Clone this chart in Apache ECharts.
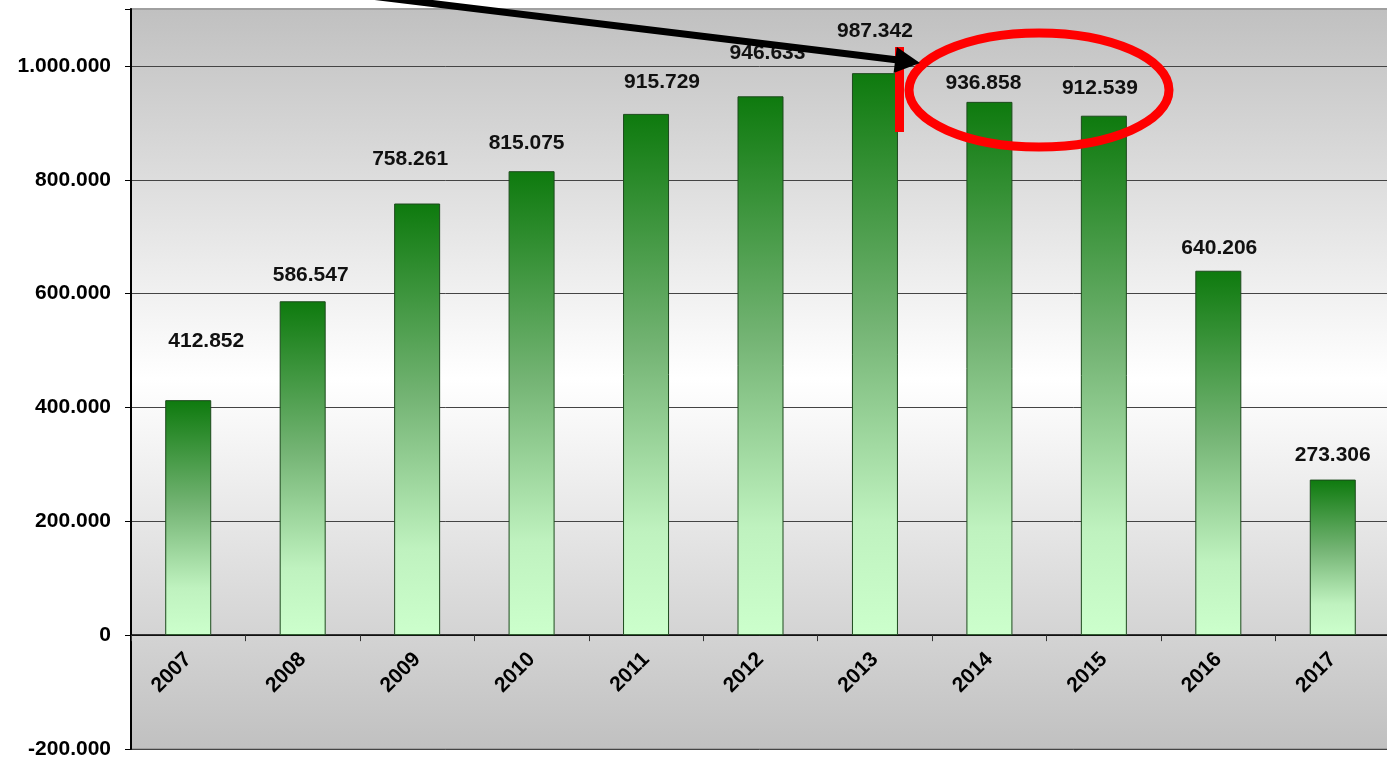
<!DOCTYPE html>
<html>
<head>
<meta charset="utf-8">
<script src="https://cdn.jsdelivr.net/npm/echarts@6/dist/echarts.min.js"></script>
<style>
  html, body { margin: 0; padding: 0; background: #fff; }
  #main { width: 1387px; height: 760px; }
</style>
</head>
<body>
<div id="main"></div>
<script>
var years = ["2007", "2008", "2009", "2010", "2011", "2012", "2013", "2014", "2015", "2016", "2017"];
var values = [412852, 586547, 758261, 815075, 915729, 946633, 987342, 936858, 912539, 640206, 273306];
// manual label nudges (px), like the hand-placed labels in the original
var labelDx = [18, 8, -7, -5, 16, 7, 0, -6, -4, 1, 0];
var labelDy = [43, 11, 29, 12, 16, 28, 26, 3, 12, 7, 9];
var yTicks = [-200000, 0, 200000, 400000, 600000, 800000, 1000000];

function fmt(v) {
  var s = String(Math.abs(v)).replace(/\B(?=(\d{3})+(?!\d))/g, ".");
  return v < 0 ? "-" + s : s;
}

var chartDom = document.getElementById("main");
var myChart = echarts.init(chartDom);
var font = "'Liberation Sans', Arial, sans-serif";
var gridBottom = 11;

var barColor = {
  type: "linear", x: 0, y: 0, x2: 0, y2: 1,
  colorStops: [
    { offset: 0, color: "#0e7a0e" },
    { offset: 0.45, color: "#74b474" },
    { offset: 0.8, color: "#bff2bf" },
    { offset: 1, color: "#ccffcc" }
  ]
};

var data = values.map(function (v, i) {
  return { value: v, label: { offset: [labelDx[i], -labelDy[i]] } };
});

var option = {
  animation: false,
  grid: {
    left: 131, top: 9, width: 1259, bottom: gridBottom,
    outerBoundsMode: "none",
    containLabel: false,
    show: true,
    borderColor: "#a0a0a0",
    borderWidth: 2,
    backgroundColor: {
      type: "linear", x: 0, y: 0, x2: 0, y2: 1,
      colorStops: [
        { offset: 0, color: "#c0c0c0" },
        { offset: 0.5, color: "#ffffff" },
        { offset: 1, color: "#c0c0c0" }
      ]
    }
  },
  xAxis: {
    type: "category",
    data: years,
    axisLine: { show: true, onZero: false, lineStyle: { color: "#000", width: 1.5 } },
    axisTick: { show: true, length: 6, lineStyle: { color: "#333" } },
    axisLabel: {
      rotate: 45, margin: 21,
      fontFamily: font, fontSize: 21, fontWeight: "bold", color: "#000"
    }
  },
  yAxis: {
    type: "value",
    min: -200000,
    max: 1100000,
    interval: 200000,
    axisLine: { show: true, lineStyle: { color: "#000", width: 2 } },
    axisTick: { show: true, length: 6, lineStyle: { color: "#000" } },
    axisLabel: {
      margin: 20,
      fontFamily: font, fontSize: 21, fontWeight: "bold", color: "#000",
      formatter: function (v) {
        return yTicks.indexOf(v) >= 0 ? fmt(v) : "";
      }
    },
    splitLine: { show: true, showMaxLine: false, lineStyle: { color: "#444", width: 1 } }
  },
  series: [
    {
      type: "bar",
      data: data,
      barWidth: 46,
      itemStyle: { color: barColor, borderColor: "#1d4a1d", borderWidth: 1 },
      label: {
        show: true,
        position: "top",
        fontFamily: font, fontSize: 21, fontWeight: "bold", color: "#111",
        formatter: function (p) { return fmt(p.value); }
      }
    }
  ],
  graphic: [
    {
      type: "rect", z: 100,
      shape: { x: 895, y: 47, width: 9, height: 85 },
      style: { fill: "#ff0000" }
    },
    {
      type: "ellipse", z: 101,
      shape: { cx: 1039, cy: 90, rx: 130, ry: 57 },
      style: { fill: null, stroke: "#ff0000", lineWidth: 9 }
    },
    {
      type: "line", z: 102,
      shape: { x1: 0, y1: -49, x2: 898, y2: 60 },
      style: { stroke: "#000", lineWidth: 7 }
    },
    {
      type: "polygon", z: 103,
      shape: { points: [[920, 63], [893.6, 72.9], [896.8, 47.1]] },
      style: { fill: "#000" }
    }
  ]
};

myChart.setOption(option);

// put the category axis (line, ticks, labels) on the zero line
var zeroY = myChart.convertToPixel({ yAxisIndex: 0 }, 0);
var bottomY = 760 - gridBottom;
myChart.setOption({ xAxis: { offset: zeroY - bottomY } });
</script>
</body>
</html>
